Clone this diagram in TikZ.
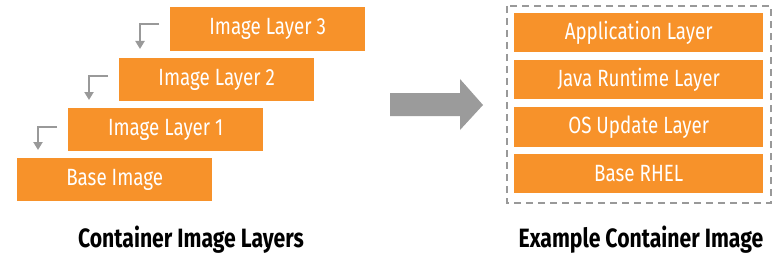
\documentclass[tikz,border=0pt]{standalone}
\usepackage{fontspec}
\setmainfont{Fira Sans}[FakeStretch=0.8]
\usetikzlibrary{arrows.meta}
\definecolor{lorange}{HTML}{F7922A}
\definecolor{lgray}{HTML}{999999}
\definecolor{agray}{HTML}{9B9B9B}
\tikzset{
  layer/.style={fill=lorange, draw=none, text=white, font=\fontsize{23.5}{25}\selectfont, inner sep=0pt},
  elbow/.style={draw=lgray, line width=2pt, -{Triangle[length=8pt,width=9pt]}},
  title/.style={font=\fontsize{26.5}{28}\selectfont\bfseries, text=black},
}
\begin{document}
\begin{tikzpicture}[x=1pt,y=-1pt]
\useasboundingbox (0,0) rectangle (782,262);
% left stack
\node[layer, minimum width=195pt, minimum height=44pt, anchor=north west] (l3) at (170,7) {Image Layer 3};
\node[layer, minimum width=195pt, minimum height=43pt, anchor=north west] (l2) at (119,58) {Image Layer 2};
\node[layer, minimum width=195pt, minimum height=43pt, anchor=north west] (l1) at (68,108) {Image Layer 1};
\node[layer, minimum width=195pt, minimum height=43pt, anchor=north west] (b0) at (17,158) {Base Image};
% elbow arrows
\coordinate (e3s) at (159,24); \coordinate (e3c) at (140,24); \coordinate (e3e) at (140,49);
\coordinate (e2s) at (108,76); \coordinate (e2c) at (89,76); \coordinate (e2e) at (89,100);
\coordinate (e1s) at (57,127); \coordinate (e1c) at (38,127); \coordinate (e1e) at (38,150);
\draw[elbow] (e3s) -- (e3c) -- (e3e);
\draw[elbow] (e2s) -- (e2c) -- (e2e);
\draw[elbow] (e1s) -- (e1c) -- (e1e);
% big arrow
\fill[agray] (390,93) -- (460,93) -- (460,79) -- (483,105) -- (460,130) -- (460,116) -- (390,116) -- cycle;
% right stack
\node[layer, minimum width=249pt, minimum height=39pt, anchor=north west] (r4) at (514,13) {Application Layer};
\node[layer, minimum width=249pt, minimum height=39pt, anchor=north west] (r3) at (514,60) {Java Runtime Layer};
\node[layer, minimum width=249pt, minimum height=40pt, anchor=north west] (r2) at (514,107) {OS Update Layer};
\node[layer, minimum width=249pt, minimum height=39pt, anchor=north west] (r1) at (514,154) {Base RHEL};
\draw[lgray, line width=1.8pt, dash pattern=on 7pt off 5pt] (507,6) rectangle (771,203);
% titles
\node[title] (t1) at (191,240) {Container Image Layers};
\node[title] (t2) at (641,240) {Example Container Image};
\end{tikzpicture}
\end{document}
